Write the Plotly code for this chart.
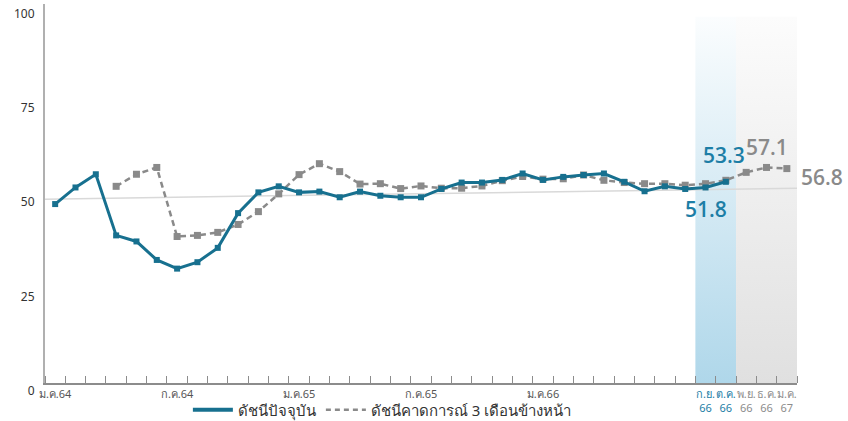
import plotly.graph_objects as go

# ดัชนีปัจจุบัน: ม.ค.64 - ต.ค.66
current_index = [47.4, 51.8, 55.3, 39.1, 37.5, 32.6, 30.3, 32.0, 35.8, 45.0, 50.5, 52.1,
                 50.5, 50.7, 49.2, 50.7, 49.6, 49.2, 49.2, 51.4, 53.1, 53.1, 53.8, 55.5,
                 53.8, 54.6, 55.1, 55.5, 53.3, 50.8, 52.1, 51.4, 51.8, 53.3]
# ดัชนีคาดการณ์ 3 เดือนข้างหน้า: เม.ย.64 - ม.ค.67
forecast_index = [52.1, 55.3, 57.1, 38.8, 39.1, 39.9, 42.0, 45.4, 50.1,
                  55.2, 58.1, 56.0, 52.7, 52.8, 51.5, 52.2, 51.6, 51.6, 52.2, 53.6, 54.7,
                  54.0, 54.1, 55.1, 53.7, 53.1, 52.8, 52.8, 52.4, 52.8, 53.7, 55.8, 57.1,
                  56.8]
forecast_offset = 3
trend_line = [48.7, 51.6]

tick_pos = [0, 6, 12, 18, 24, 32, 33, 34, 35, 36]
tick_labels = ["ม.ค.64", "ก.ค.64", "ม.ค.65", "ก.ค.65", "ม.ค.66",
               "ก.ย.<br>66", "ต.ค.<br>66", "พ.ย.<br>66", "ธ.ค.<br>66", "ม.ค.<br>67"]
highlight_ticks = ["ก.ย.<br>66", "ต.ค.<br>66"]

BLUE = "#17708f"
BLUE_TXT = "#1c7ea6"
GRAY = "#8a8a8a"
FONT = "Noto Sans, Open Sans, sans-serif"

x_cur = list(range(len(current_index)))
x_fc = [i + forecast_offset for i in range(len(forecast_index))]
n_months = len(x_fc) + forecast_offset

fig = go.Figure()

# shaded periods (gradient, light at top)
def band(x0, x1, bottom, top):
    fig.add_trace(go.Scatter(
        x=[x0, x1, x1, x0, x0], y=[0, 0, 97, 97, 0], mode="lines", fill="toself",
        line=dict(width=0), fillgradient=dict(type="vertical",
                                              colorscale=[[0, bottom], [1, top]]),
        hoverinfo="skip", showlegend=False))

band(31.5, 33.5, "#afd7ea", "#fbfdfe")
band(33.5, 36.5, "#e0e0e0", "#fcfcfc")

fig.add_trace(go.Scatter(x=[-0.5, n_months - 0.5], y=trend_line, mode="lines",
                         line=dict(color="#d9d9d9", width=1.5),
                         hoverinfo="skip", showlegend=False))

fig.add_trace(go.Scatter(x=x_fc, y=forecast_index, mode="lines+markers",
                         line=dict(color=GRAY, width=2.5, dash="6px,4px"),
                         marker=dict(symbol="square", size=7, color=GRAY),
                         showlegend=False))
fig.add_trace(go.Scatter(x=x_cur, y=current_index, mode="lines+markers",
                         line=dict(color=BLUE, width=3),
                         marker=dict(symbol="square", size=6, color=BLUE),
                         showlegend=False))

# legend entries
fig.add_trace(go.Scatter(x=[None], y=[None], mode="lines", name="ดัชนีปัจจุบัน",
                         line=dict(color=BLUE, width=4)))
fig.add_trace(go.Scatter(x=[None], y=[None], mode="lines",
                         name="ดัชนีคาดการณ์ 3 เดือนข้างหน้า",
                         line=dict(color=GRAY, width=2.5, dash="5px,4px")))

ticktext = []
for t in tick_labels:
    if "<br>" in t:
        c = BLUE_TXT if t in highlight_ticks else "#8c8c8c"
        ticktext.append(f'<span style="color:{c}">{t}</span>')
    else:
        ticktext.append(t)

big = dict(family="Open Sans, sans-serif", size=21, weight=600)
fig.add_annotation(x=x_cur[-1], y=current_index[-1], text=f"{current_index[-1]:.1f}",
                   showarrow=False, yshift=27, xshift=-2, font=dict(color=BLUE_TXT, **big))
fig.add_annotation(x=x_cur[-2], y=current_index[-2], text=f"{current_index[-2]:.1f}",
                   showarrow=False, yshift=-22, font=dict(color=BLUE_TXT, **big))
fig.add_annotation(x=x_fc[-2], y=forecast_index[-2], text=f"{forecast_index[-2]:.1f}",
                   showarrow=False, yshift=20, font=dict(color=GRAY, **big))
fig.add_annotation(x=x_fc[-1], y=forecast_index[-1], text=f"{forecast_index[-1]:.1f}",
                   showarrow=False, xshift=35, yshift=-8, font=dict(color=GRAY, **big))

fig.update_layout(
    width=848, height=421,
    margin=dict(l=45, r=51, t=4, b=38),
    paper_bgcolor="white", plot_bgcolor="white",
    font=dict(family=FONT, size=12, color="#444"),
    legend=dict(orientation="h", x=0.19, xanchor="left", xref="paper",
                y=0.026, yanchor="middle", yref="container",
                font=dict(size=15, color="#333"), itemwidth=40,
                bgcolor="rgba(0,0,0,0)"),
    showlegend=True,
)
fig.update_xaxes(range=[-0.5, n_months - 0.5], tickvals=tick_pos, ticktext=ticktext,
                 tickangle=0, automargin=False,
                 ticks="", showgrid=False, zeroline=False, showline=True,
                 linecolor="#8c8c8c", linewidth=1.5,
                 tickfont=dict(size=11, color="#555"),
                 minor=dict(ticks="inside", tick0=0.5, dtick=1, ticklen=7,
                            tickcolor="#8c8c8c", tickwidth=1, showgrid=False))
fig.update_yaxes(range=[0, 100.4], tickvals=[0, 25, 50, 75, 100], showgrid=False,
                 automargin=False, ticklabelshift=8, ticklabelstandoff=6,
                 zeroline=False, showline=True, linecolor="#b0b0b0", linewidth=2,
                 ticks="", tickfont=dict(size=12, color="#333"))

fig.write_html("out.html", config={"displayModeBar": False},
               post_script="document.body.style.margin = '0';")
